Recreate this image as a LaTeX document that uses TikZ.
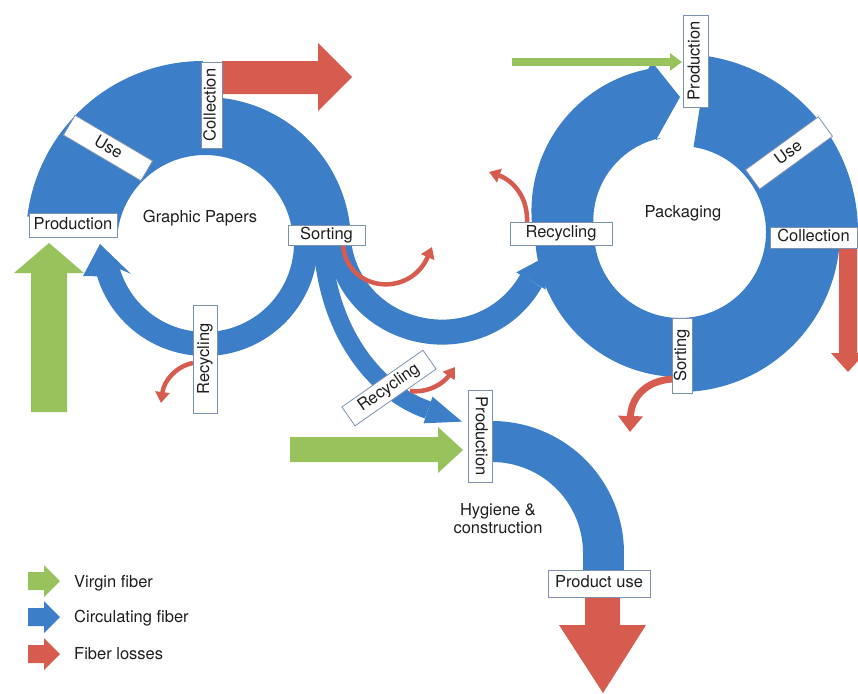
\documentclass[tikz,border=0pt]{standalone}
\usepackage{fontspec}
\setmainfont{TeX Gyre Heros}
\usetikzlibrary{arrows.meta}
\definecolor{bl}{RGB}{60,126,200}
\definecolor{rd}{RGB}{214,92,80}
\definecolor{gr}{RGB}{151,194,92}
\definecolor{bx}{RGB}{125,145,175}
\definecolor{tx}{RGB}{30,30,30}
% annulus sector: outer centre (#1,#2) radius #3, inner centre (#4,#5) radius #6, angles #7 -> #8
\newcommand\annul[8]{\fill[bl] plot[domain=0:1,samples=60] ({#1+(#3)*cos((#7)+((#8)-(#7))*\x)},{#2+(#3)*sin((#7)+((#8)-(#7))*\x)}) -- plot[domain=0:1,samples=60] ({#4+(#6)*cos((#8)+((#7)-(#8))*\x)},{#5+(#6)*sin((#8)+((#7)-(#8))*\x)}) -- cycle;}
\begin{document}
\begin{tikzpicture}[x=1pt,y=-1pt,
  lbl/.style={draw=bx, line width=0.8pt, fill=white, text=tx, inner sep=0pt,
    text height=11.8pt, text depth=3.4pt, font=\fontsize{16.5}{19}\selectfont},
  txt/.style={text=tx, inner sep=0pt, font=\fontsize{16.5}{19}\selectfont},
  loss/.style={draw=rd, line width=4.5pt, -{Triangle[width=14pt,length=11pt]}},
  bigloss/.style={draw=rd, line width=7pt, -{Triangle[width=24pt,length=16pt]}},
  stream/.style={draw=bl},
]
\useasboundingbox (0,0) rectangle (858,693);
\clip (0,0) rectangle (858,693);

% ---------------- Graphic papers loop ----------------
\annul{203}{238}{177}{205}{243}{88}{187}{270}
\annul{205}{243}{146}{205}{243}{88}{270}{360}
% recycling return with its arrowhead
\fill[bl] plot[domain=0:1,samples=70] ({205+113*cos(-5+168*\x)},{243+113*sin(-5+168*\x)})
  -- (83,276) -- (100,244) -- (131,274)
  -- plot[domain=0:1,samples=70] ({205+89*cos(163-168*\x)},{243+89*sin(163-168*\x)}) -- cycle;
% streams leaving sorting
\draw[stream, line width=18pt] (322,236) .. controls (325,330) and (375,392) .. (428,410);
\fill[bl] (432.5,396.7) -- (462,421.6) -- (423.5,423.3) -- cycle;
\draw[stream, line width=25pt] (338,236) .. controls (345,338) and (480,368) .. (531,281);
\fill[bl] (545.7,289.6) -- (545,257) -- (516.3,272.4) -- cycle;
% losses and virgin fibre
\fill[rd] (222,61) -- (318,61) -- (318,43) -- (352,77) -- (318,111) -- (318,94) -- (222,94) -- cycle;
\draw[loss] (343,246) .. controls (348,292) and (410,298) .. (432,247);
\draw[loss] (193,363) .. controls (177,366) and (164,380) .. (161,403);
\fill[gr] (31,412) -- (31,273) -- (14,273) -- (49,243) -- (84,273) -- (67,273) -- (67,412) -- cycle;

% ---------------- Packaging loop ----------------
\annul{680}{232}{178}{680}{232}{86}{279}{360}
\annul{680}{232}{160}{680}{232}{86}{0}{90}
\annul{680}{232}{145}{680}{232}{86}{90}{180}
\fill[bl] plot[domain=0:1,samples=60] ({680+(147+19*sin(90*\x))*cos(180+79*\x)},{232+(147+19*sin(90*\x))*sin(180+79*\x)})
  -- (652,62) -- (680,97) -- (656,140)
  -- plot[domain=0:1,samples=60] ({680+(86+10*cos(90*\x))*cos(259-79*\x)},{232+(86+10*cos(90*\x))*sin(259-79*\x)}) -- cycle;
\fill[rd] (839,246) -- (857,246) -- (857,353) -- (865,353) -- (848,372) -- (831,353) -- (839,353) -- cycle;
\draw[loss] (527,222) .. controls (528,196) and (512,180) .. (489,172);
\draw[bigloss] (672,379) .. controls (645,381) and (631,398) .. (630,432);
\draw[gr, line width=8pt, -{Triangle[width=17pt,length=12pt]}] (512,62) -- (682,62);

% ---------------- Hygiene & construction ----------------
\annul{492}{553}{132}{492}{553}{91}{270}{360}
\fill[bl] (583,552) rectangle (624,572);
\fill[rd] (585,596) -- (620,596) -- (620,625) -- (646,625) -- (603,693) -- (559,625) -- (585,625) -- cycle;
\fill[gr] (290,437) -- (438,437) -- (438,427) -- (463,450) -- (438,473) -- (438,462) -- (290,462) -- cycle;
\draw[loss] (410,391) .. controls (428,393) and (443,384) .. (455,367);

% ---------------- labels ----------------
\node[lbl, minimum width=88pt, minimum height=24pt] (gprod) at (73,225) {Production};
\node[lbl, minimum width=90pt, minimum height=23pt, rotate=-30.5] (guse) at (108,148) {Use};
\node[lbl, minimum width=86pt, minimum height=21pt, rotate=90] (gcoll) at (211.5,105) {Collection};
\node[lbl, minimum width=77pt, minimum height=20pt] (gsort) at (326.5,235) {Sorting};
\node[lbl, minimum width=108pt, minimum height=24pt, rotate=90] (grec) at (205,359) {Recycling};
\node[txt, anchor=base] (gp) at (200,222) {Graphic Papers};

\node[lbl, minimum width=92pt, minimum height=25pt, rotate=90] (pprod) at (695.5,61) {Production};
\node[lbl, minimum width=90pt, minimum height=24pt, rotate=36] (puse) at (789,153) {Use};
\node[lbl, minimum width=87pt, minimum height=21pt] (pcoll) at (813.5,237.5) {Collection};
\node[lbl, minimum width=75pt, minimum height=20pt, rotate=90] (psort) at (682,355.5) {Sorting};
\node[lbl, minimum width=102pt, minimum height=23pt] (prec) at (561,233.5) {Recycling};
\node[txt, anchor=base] (pk) at (683,217) {Packaging};

\node[lbl, minimum width=99pt, minimum height=23pt, rotate=35] (hrec) at (389,388) {Recycling};
\node[lbl, minimum width=92pt, minimum height=24pt, rotate=-90] (hprod) at (480,436) {Production};
\node[lbl, minimum width=102pt, minimum height=27pt] (huse) at (599,583.5) {Product use};
\node[txt, anchor=base] (hy1) at (498,515) {Hygiene \&};
\node[txt, anchor=base] (hy2) at (498,533) {construction};

% ---------------- legend ----------------
\fill[gr] (28,572) -- (44,572) -- (44,565) -- (60,581) -- (44,597) -- (44,590) -- (28,590) -- cycle;
\fill[bl] (28,608) -- (44,608) -- (44,601) -- (60,617) -- (44,633) -- (44,626) -- (28,626) -- cycle;
\fill[rd] (28,645) -- (44,645) -- (44,638) -- (60,654) -- (44,670) -- (44,663) -- (28,663) -- cycle;
\node[txt, anchor=base west] (lg1) at (74,587) {Virgin fiber};
\node[txt, anchor=base west] (lg2) at (74,622.5) {Circulating fiber};
\node[txt, anchor=base west] (lg3) at (74,659) {Fiber losses};
\end{tikzpicture}
\end{document}
